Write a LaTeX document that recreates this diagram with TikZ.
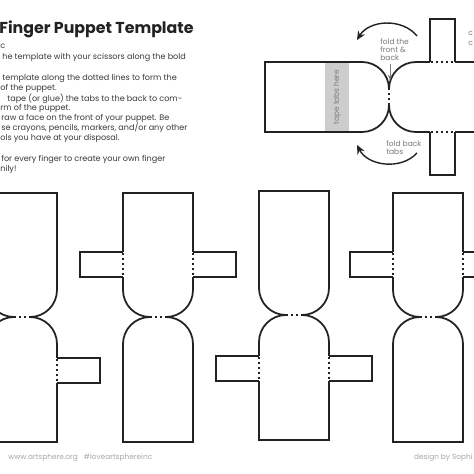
\documentclass[tikz,border=0pt]{standalone}
\usepackage{fontspec}
\setmainfont{Poppins}
\usetikzlibrary{arrows.meta}

\definecolor{ink}{HTML}{222222}
\definecolor{bodygray}{HTML}{3A3A3A}
\definecolor{notegray}{HTML}{7A7A7A}
\definecolor{footgray}{HTML}{A8A8A8}
\definecolor{tapegray}{HTML}{CDCDCD}

\begin{document}
\begin{tikzpicture}[x=0.02cm,y=-0.02cm,>={Stealth[length=5pt,width=4.5pt]},
	outline/.style={draw=ink,line width=1pt},
	fold/.style={draw=ink,line width=1.3pt,dash pattern=on 1.4pt off 1.4pt},
	title/.style={text=ink,font=\bfseries\fontsize{9}{10}\selectfont,inner sep=0pt,anchor=base west},
	body/.style={text=bodygray,font=\fontsize{4.6}{5.9}\selectfont,inner sep=0pt,anchor=base west},
	note/.style={text=notegray,font=\fontsize{4.3}{4.55}\selectfont,align=left,inner sep=0pt},
	foot/.style={text=footgray,font=\fontsize{4.2}{4.5}\selectfont,inner sep=0pt,anchor=base west},
	turn/.style={draw=ink,line width=0.8pt,->},
	puppet/.pic={
		% upper half, neck, lower half
		\draw[outline] (27,124) arc[start angle=90,end angle=180,radius=27] -- (0,0) -- (70,0) -- (70,97)
			arc[start angle=0,end angle=90,radius=27];
		\draw[outline] (43,124) arc[start angle=270,end angle=360,radius=27] -- (70,249) -- (0,249) -- (0,151)
			arc[start angle=180,end angle=270,radius=27];
		\draw[fold] (27,124) -- (43,124);
		% tabs
		\draw[white,line width=2pt] (0,#1) -- (0,#1+25) (70,#1) -- (70,#1+25);
		\draw[fold] (0,#1+1) -- (0,#1+24) (70,#1+1) -- (70,#1+24);
		\draw[outline] (0,#1) -- (-43,#1) -- (-43,#1+25) -- (0,#1+25);
		\draw[outline] (70,#1) -- (113,#1) -- (113,#1+25) -- (70,#1+25);
	}]
	\useasboundingbox (0,0) rectangle (474,474);
	\fill[white] (0,0) rectangle (474,474);
	\clip (0,0) rectangle (474,474);

	\node[title] (title) at (-1,33) {Finger Puppet Template};

	\node[body] (s0) at (0,48) {c};
	\node[body] (s1) at (2,59) {he template with your scissors along the bold};
	\node[body] (s2) at (2,80) {template along the dotted lines to form the};
	\node[body] (s2b) at (0,90) {of the puppet.};
	\node[body] (s3) at (7,101) {tape (or glue) the tabs to the back to com-};
	\node[body] (s3b) at (0,110) {rm of the puppet.};
	\node[body] (s4) at (1,120) {raw a face on the front of your puppet. Be};
	\node[body] (s4b) at (1,130) {se crayons, pencils, markers, and/or any other};
	\node[body] (s4c) at (0,140) {ols you have at your disposal.};
	\node[body] (s5) at (1,161) {for every finger to create your own finger};
	\node[body] (s5b) at (0,171) {nily!};

	% folding example
	\fill[tapegray] (325,62) rectangle (349,132);
	\node[rotate=90,text=notegray,font=\fontsize{4.2}{5}\selectfont] (tape) at (337,97) {tape tabs here};
	\pic[rotate=90] (side) at (265,132) {puppet=165};

	\node[note,anchor=north west] (foldfront) at (380,38) {fold the\\front \&\\back};
	\node[note,anchor=north west] (foldtabs) at (386,140) {fold back\\tabs};
	\node[note,anchor=base west] (cut1) at (468,35) {c};
	\node[note,anchor=base west] (cut2) at (468,45) {c};

	\coordinate (downs) at (390,64);
	\coordinate (downe) at (390,80);
	\draw[notegray,line width=0.5pt,-{Stealth[length=3pt,width=2.5pt]}] (downs) -- (downe);

	\coordinate (up1) at (417,36);
	\coordinate (up2) at (357,40);
	\draw[turn] (up1) to[bend right=55] (up2);
	\coordinate (lo1) at (417,153);
	\coordinate (lo2) at (357,145);
	\draw[turn] (lo1) to[bend left=55] (lo2);

	% the four puppets
	\pic (p1) at (-13,193) {puppet=165};
	\pic (p2) at (123,193) {puppet=59};
	\pic (p3) at (259,191) {puppet=165};
	\pic (p4) at (393,193) {puppet=59};

	\node[foot] (web) at (8,459) {www.artsphere.org \ \ \#loveartsphereinc};
	\node[foot,anchor=base east] (credit) at (473,459) {design by Sophi};
\end{tikzpicture}
\end{document}
